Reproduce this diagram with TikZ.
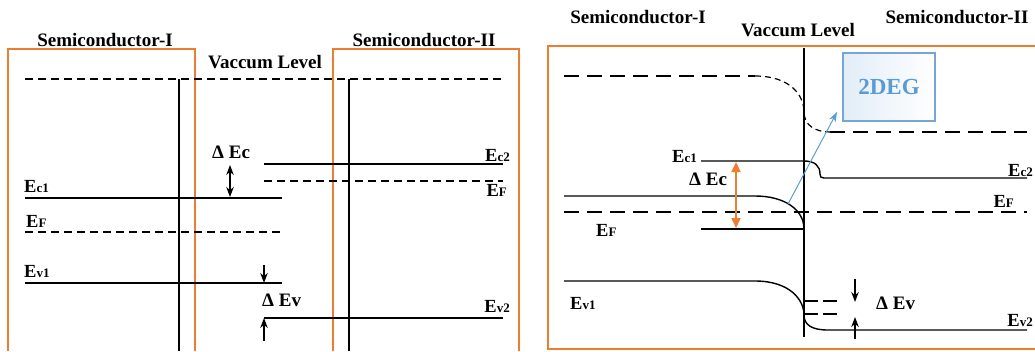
\documentclass[tikz,border=0pt]{standalone}
\usepackage{fontspec}
\setmainfont{Liberation Serif}
\usetikzlibrary{arrows.meta}
\definecolor{boxorange}{RGB}{237,125,49}
\definecolor{degblue}{RGB}{91,155,213}
\definecolor{degborder}{RGB}{120,165,215}
\newcommand\enl[1]{{\fontsize{18.5}{18.5}\selectfont E}{\fontsize{13}{13}\selectfont #1}}
\tikzset{
  band/.style={line width=1.4pt, black},
  vdash/.style={band, dash pattern=on 8pt off 5pt},
  rdash/.style={band, dash pattern=on 15pt off 8pt},
  cdash/.style={band, line width=1.2pt, dash pattern=on 6pt off 4pt},
  obox/.style={line width=2.4pt, boxorange},
  hdr/.style={font=\fontsize{19}{19}\selectfont\bfseries, anchor=base, inner sep=0pt},
  lab/.style={font=\bfseries, anchor=base west, inner sep=0pt},
  labr/.style={font=\bfseries, anchor=base east, inner sep=0pt},
  dlab/.style={font=\fontsize{19}{19}\selectfont\bfseries, anchor=base west, inner sep=0pt},
  arr/.style={line width=1.3pt, -{Stealth[length=10pt,width=7.5pt]}},
  darr/.style={line width=1.3pt, {Stealth[length=10pt,width=7.5pt]}-{Stealth[length=10pt,width=7.5pt]}},
  oarr/.style={line width=1.8pt, boxorange, {Triangle[length=10pt,width=9pt]}-{Triangle[length=10pt,width=9pt]}},
  barr/.style={line width=1pt, degblue, -{Stealth[length=10pt,width=7pt]}},
}
\begin{document}
\begin{tikzpicture}[x=1pt,y=-1pt]
\useasboundingbox (0,0) rectangle (1035,351);
% ---------------- left panel ----------------
\draw[obox] (8,351) -- (8,49) -- (195,49) -- (195,351);
\draw[obox] (333,351) -- (333,49) -- (519,49) -- (519,351);
\node[hdr] (h1) at (105,46) {Semiconductor-I};
\node[hdr] (h2) at (424,46) {Semiconductor-II};
\node[hdr] (h3) at (265,68) {Vaccum Level};
\draw[vdash] (25,79) -- (503,79);
\draw[band] (179,79) -- (179,351);
\draw[band] (349,79) -- (349,351);
\draw[band] (25,198) -- (282,198);
\draw[vdash] (25,232) -- (280,232);
\draw[band] (25,283) -- (282,283);
\draw[band] (264,164) -- (503,164);
\draw[vdash] (264,181) -- (503,181);
\draw[band] (264,318) -- (503,318);
\node[lab] (lc1) at (24,192) {\enl{c1}};
\node[lab] (lf1) at (26,227) {\enl{F}};
\node[lab] (lv1) at (24,277) {\enl{v1}};
\node[labr] (lc2) at (510,161) {\enl{c2}};
\node[labr] (lf2) at (507,196) {\enl{F}};
\node[labr] (lv2) at (510,312) {\enl{v2}};
\node[dlab] (ldc) at (212,158) {Δ Ec};
\node[dlab] (ldv) at (262,306) {Δ Ev};
\coordinate (a1) at (230,165);
\coordinate (a2) at (230,197);
\draw[darr] (a1) -- (a2);
\coordinate (b1) at (264,265);
\coordinate (b2) at (264,283);
\draw[arr] (b1) -- (b2);
\coordinate (b3) at (264,341);
\coordinate (b4) at (264,318);
\draw[arr] (b3) -- (b4);
% ---------------- right panel ----------------
\draw[obox] (1035,46) -- (548,46) -- (548,349) -- (1035,349);
\node[hdr] (r1) at (638,23) {Semiconductor-I};
\node[hdr] (r2) at (957,23) {Semiconductor-II};
\node[hdr] (r3) at (798,36) {Vaccum Level};
\draw[band] (804,48) -- (804,337);
% vacuum level
\draw[rdash] (564,76) -- (755,76);
\draw[cdash] (755,76) .. controls (790,76) and (804,95) .. (804,112)
   .. controls (804,125) and (815,132) .. (830,132);
\draw[rdash] (830,132) -- (1027,132);
% Ec1 / Ec2
\draw[band] (701,161) -- (804,161) .. controls (815,161) and (820,166) .. (820,174)
   .. controls (820,177) and (821,178) .. (824,178) -- (1027,178);
% bent conduction band
\draw[band] (564,196) -- (755,196) .. controls (785,196) and (804,210) .. (804,229);
\draw[rdash] (564,212) -- (1027,212);
\draw[band] (701,229) -- (804,229);
% valence band
\draw[band] (564,281) -- (755,281) .. controls (790,281) and (804,300) .. (804,315)
   .. controls (804,325) and (812,330) .. (828,330) -- (1027,330);
\draw[band, dash pattern=on 14pt off 5pt] (804,301) -- (840,301);
\draw[band, dash pattern=on 14pt off 5pt] (804,314) -- (840,314);
% labels
\node[lab] (rc1) at (672,162) {\enl{c1}};
\node[dlab] (rdc) at (689,185) {Δ Ec};
\node[lab] (rf1) at (596,236) {\enl{F}};
\node[lab] (rv1) at (570,309) {\enl{v1}};
\node[labr] (rc2) at (1033,176) {\enl{c2}};
\node[labr] (rf2) at (1014,207) {\enl{F}};
\node[labr] (rv2) at (1033,326) {\enl{v2}};
\node[dlab] (rdv) at (876,309) {Δ Ev};
% 2DEG box
\node[draw=degborder, line width=1.2pt, left color=degblue!18, right color=white,
      minimum width=92pt, minimum height=68pt, inner sep=0pt,
      text=degblue, font=\fontsize{23}{23}\selectfont\bfseries] (deg) at (889,87) {2DEG};
% arrows
\coordinate (o1) at (736,162);
\coordinate (o2) at (736,228);
\draw[oarr] (o1) -- (o2);
\coordinate (g1) at (788,204);
\coordinate (g2) at (837,112);
\draw[barr] (g1) -- (g2);
\coordinate (c1) at (855,279);
\coordinate (c2) at (855,302);
\draw[arr] (c1) -- (c2);
\coordinate (c3) at (855,339);
\coordinate (c4) at (855,317);
\draw[arr] (c3) -- (c4);
\end{tikzpicture}
\end{document}
